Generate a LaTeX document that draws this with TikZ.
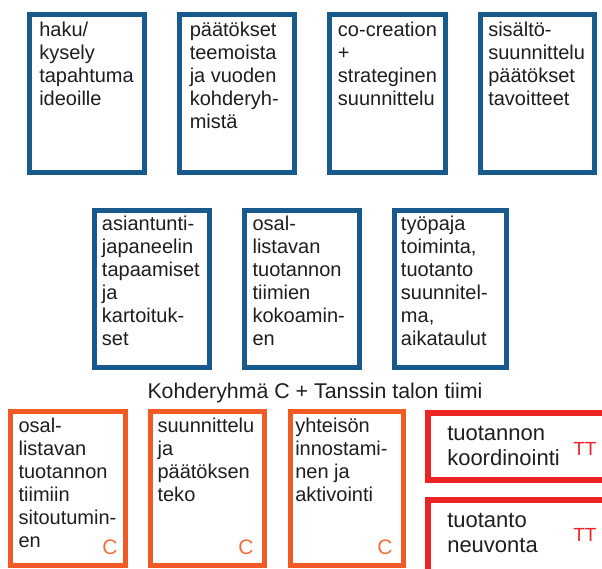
\documentclass[tikz,border=0pt]{standalone}
\usepackage{fontspec}
\setmainfont{Liberation Sans}
\definecolor{myblue}{RGB}{24,90,140}
\definecolor{myorange}{RGB}{241,90,36}
\definecolor{myorangeC}{RGB}{243,112,64}
\definecolor{myred}{RGB}{236,36,38}
\definecolor{mytext}{RGB}{30,30,30}
\begin{document}
\begin{tikzpicture}[x=0.75pt,y=-0.75pt,
  box/.style={draw, inner sep=0pt, outer sep=0pt, fill=white},
  sz/.style 2 args={minimum width={(#1)*0.75pt}, minimum height={(#2)*0.75pt}},
  bluebox/.style={box, draw=myblue, line width=4.1pt},
  orangebox/.style={box, draw=myorange, line width=3.75pt},
  redbox/.style={box, draw=myred, line width=4.5pt},
  txt/.style={anchor=north west, inner sep=0pt, align=left, text=mytext, font=\fontsize{15}{17.25}\selectfont},
  bigtxt/.style={txt, font=\fontsize{16.5}{18.75}\selectfont},
  cmark/.style={anchor=base west, inner sep=0pt, text=myorangeC, font=\fontsize{15.75}{18}\selectfont},
  ttmark/.style={anchor=base west, inner sep=0pt, text=myred, font=\fontsize{14.25}{17}\selectfont},
  heading/.style={anchor=base, inner sep=0pt, text=mytext, font=\fontsize{16}{19}\selectfont}
]
\useasboundingbox (0,0) rectangle (602,568);
\clip (0,0) rectangle (602,568);

% top row
\node[bluebox, sz={114.5}{157.5}] (b1) at (87,93.5) {};
\node[bluebox, sz={114.5}{157.5}] (b2) at (237,93.5) {};
\node[bluebox, sz={115.5}{157.5}] (b3) at (387.5,93.5) {};
\node[bluebox, sz={113.5}{157.5}] (b4) at (537.5,93.5) {};
\node[txt] (t1) at (39,19.9) {\strut haku/\\kysely\\tapahtuma\\ideoille};
\node[txt] (t2) at (189.5,19.9) {\strut päätökset\\teemoista\\ja vuoden\\kohderyh-\\mistä};
\node[txt] (t3) at (337.7,19.9) {\strut co-creation\\+\\strateginen\\suunnittelu};
\node[txt] (t4) at (488,19.9) {\strut sisältö-\\suunnittelu\\päätökset\\tavoitteet};

% middle row
\node[bluebox, sz={114.5}{156.5}] (b5) at (152,289) {};
\node[bluebox, sz={114.5}{156.5}] (b6) at (302,289) {};
\node[bluebox, sz={111.5}{156.5}] (b7) at (450.5,289) {};
\node[txt] (t5) at (101.7,213.9) {\strut asiantunti-\\japaneelin\\tapaamiset\\ja\\kartoituk-\\set};
\node[txt] (t6) at (252.3,213.9) {\strut osal-\\listavan\\tuotannon\\tiimien\\kokoamin-\\en};
\node[txt] (t7) at (400.7,213.9) {\strut työpaja\\toiminta,\\tuotanto\\suunnitel-\\ma,\\aikataulut};

\node[heading] (h) at (315,398) {Kohderyhmä C + Tanssin talon tiimi};

% bottom row
\node[orangebox, sz={115}{154}] (o1) at (68,488.5) {};
\node[orangebox, sz={114}{154}] (o2) at (207.5,488.5) {};
\node[orangebox, sz={113}{154}] (o3) at (347,488.5) {};
\node[txt] (t8) at (18.3,415.9) {\strut osal-\\listavan\\tuotannon\\tiimiin\\sitoutumin-\\en};
\node[txt] (t9) at (157.3,415.9) {\strut suunnittelu\\ja\\päätöksen\\teko};
\node[txt] (t10) at (295,415.9) {\strut yhteisön\\innostami-\\nen ja\\aktivointi};
\node[cmark] (c1) at (102,554) {C};
\node[cmark] (c2) at (238,554) {C};
\node[cmark] (c3) at (377,554) {C};

\node[redbox, sz={209}{67}] (r1) at (532.5,446.5) {};
\node[redbox, sz={209}{97}] (r2) at (532.5,548.5) {};
\node[bigtxt] (t11) at (447,422.5) {\strut tuotannon\\koordinointi};
\node[bigtxt] (t12) at (447,509.5) {\strut tuotanto\\neuvonta};
\node[ttmark] (tt1) at (573,455) {TT};
\node[ttmark] (tt2) at (573,541.7) {TT};
\end{tikzpicture}
\end{document}
